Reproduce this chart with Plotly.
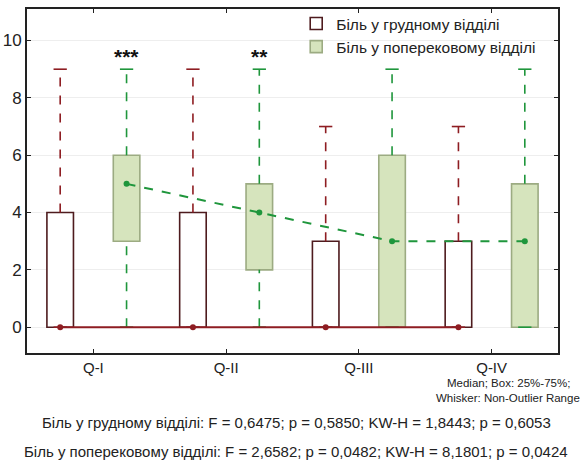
import plotly.graph_objects as go
import numpy as np

categories = ["Q-I", "Q-II", "Q-III", "Q-IV"]

# Біль у грудному відділі
chest_min = [0, 0, 0, 0]
chest_q1 = [0, 0, 0, 0]
chest_med = [0, 0, 0, 0]
chest_q3 = [4, 4, 3, 3]
chest_max = [9, 9, 7, 7]

# Біль у поперековому відділі
lumbar_min = [0, 0, 0, 0]
lumbar_q1 = [3, 2, 0, 0]
lumbar_med = [5, 4, 3, 3]
lumbar_q3 = [6, 5, 6, 5]
lumbar_max = [9, 9, 9, 9]

signif = ["***", "**", "", ""]

name_chest = "Біль у грудному відділі"
name_lumbar = "Біль у поперековому відділі"

red_dark = "#4e1b1e"
red_line = "#8e1d22"
green_line = "#1f963c"
green_fill = "#d6e4bd"
green_edge = "#9cab82"

FONT = "Liberation Sans, Arial, sans-serif"

idx = np.arange(len(categories))
off = 0.25
bw = 0.2
cap = 0.05

fig = go.Figure()


def whisker_xy(pos, lo, hi):
    xs, ys = [], []
    for p, a, b in zip(pos, lo, hi):
        if b > a:
            xs += [p, p, None]
            ys += [a, b, None]
    return xs, ys


def cap_xy(pos, vals):
    xs, ys = [], []
    for p, v in zip(pos, vals):
        xs += [p - cap, p + cap, None]
        ys += [v, v, None]
    return xs, ys


for pos, mn, q1, q3, mx, col in [
    (idx - off, chest_min, chest_q1, chest_q3, chest_max, red_line),
    (idx + off, lumbar_min, lumbar_q1, lumbar_q3, lumbar_max, green_line),
]:
    wx, wy = whisker_xy(pos, q3, mx)
    wx2, wy2 = whisker_xy(pos, mn, q1)
    fig.add_trace(go.Scatter(x=wx + wx2, y=wy + wy2, mode="lines",
                             line=dict(color=col, width=1.6, dash="dash"),
                             showlegend=False, hoverinfo="skip"))
    cx, cy = cap_xy(pos, mx)
    cx2, cy2 = cap_xy(pos, mn)
    fig.add_trace(go.Scatter(x=cx + cx2, y=cy + cy2, mode="lines",
                             line=dict(color=col, width=1.6),
                             showlegend=False, hoverinfo="skip"))

fig.add_trace(go.Bar(x=idx - off, y=np.array(chest_q3) - np.array(chest_q1),
                     base=chest_q1, width=bw, name=name_chest,
                     marker=dict(color="white", line=dict(color=red_dark, width=1.6))))
fig.add_trace(go.Bar(x=idx + off, y=np.array(lumbar_q3) - np.array(lumbar_q1),
                     base=lumbar_q1, width=bw, name=name_lumbar,
                     marker=dict(color=green_fill, line=dict(color=green_edge, width=1.6))))

fig.add_trace(go.Scatter(x=idx - off, y=chest_med, mode="lines+markers",
                         line=dict(color=red_line, width=2),
                         marker=dict(color=red_line, size=6),
                         showlegend=False))
fig.add_trace(go.Scatter(x=idx + off, y=lumbar_med, mode="lines+markers",
                         line=dict(color=green_line, width=2, dash="dash"),
                         marker=dict(color=green_line, size=6),
                         showlegend=False))

for i, s in enumerate(signif):
    if s:
        fig.add_annotation(x=i + off, y=lumbar_max[i], text="<b>" + s + "</b>", showarrow=False,
                           yshift=13, font=dict(family=FONT, size=21, color="#111"))

notes = [
    ("Median; Box: 25%-75%;", -0.087, 11.5, 0.906, "center"),
    ("Whisker: Non-Outlier Range", -0.131, 11.5, 0.906, "center"),
    ("Біль у грудному відділі: F = 0,6475; p = 0,5850; KW-H = 1,8443; p = 0,6053", -0.203, 15, 0.507, "center"),
    ("Біль у поперековому відділі: F = 2,6582; p = 0,0482; KW-H = 8,1801; p = 0,0424", -0.285, 15, 0.507, "center"),
]
for t, yy, fs, xx, xa in notes:
    fig.add_annotation(xref="paper", yref="paper", x=xx, y=yy, text=t, showarrow=False,
                       xanchor=xa, yanchor="middle",
                       font=dict(family=FONT, size=fs, color="#222"))

fig.update_layout(
    width=582, height=463,
    margin=dict(l=27, r=24, t=9, b=110, autoexpand=False),
    paper_bgcolor="white", plot_bgcolor="white",
    barmode="overlay",
    font=dict(family=FONT, color="#222"),
    legend=dict(x=0.507, y=0.985, yref="container", xanchor="left", yanchor="top",
                bgcolor="rgba(255,255,255,0)", font=dict(family=FONT, size=15.5, color="#222"),
                itemwidth=30, tracegroupgap=0),
)
fig.update_xaxes(range=[-0.5, 3.5], tickmode="array", tickvals=idx, ticktext=categories,
                 showline=True, linecolor="#222", linewidth=2, mirror="ticks",
                 ticks="inside", ticklen=4, tickcolor="#222", showgrid=False,
                 zeroline=False, tickfont=dict(size=15, family=FONT), automargin=False)
fig.update_yaxes(range=[-0.9, 11.1], tickvals=[0, 2, 4, 6, 8, 10],
                 showline=True, linecolor="#222", linewidth=2, mirror="ticks",
                 ticks="inside", ticklen=4, tickcolor="#222",
                 showgrid=True, gridcolor="#eeeeee", gridwidth=1,
                 zeroline=False, tickfont=dict(size=17, family=FONT), automargin=False)

fig.write_html("out.html", config={"displayModeBar": False},
               post_script="document.body.style.margin='0';document.body.style.overflow='hidden';")
